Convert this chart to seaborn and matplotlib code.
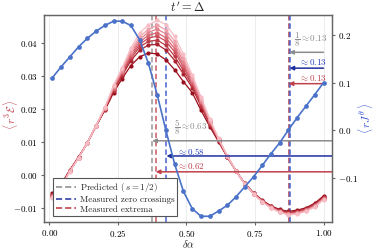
import numpy as np
import pandas as pd
import matplotlib
matplotlib.use("Agg")
import matplotlib.pyplot as plt
import seaborn as sns
from matplotlib.ticker import FuncFormatter, FixedLocator
from matplotlib.lines import Line2D

# ==================== data ====================
DELTA_ALPHA = [0.010, 0.042, 0.074, 0.106, 0.138, 0.170, 0.202, 0.234,
               0.265, 0.297, 0.329, 0.361, 0.393, 0.425, 0.457, 0.489,
               0.521, 0.553, 0.585, 0.617, 0.649, 0.681, 0.713, 0.745,
               0.777, 0.808, 0.840, 0.872, 0.904, 0.936, 0.968, 1.000]

# <r J^theta>, right axis
RJ_THETA = [0.110, 0.133, 0.154, 0.175, 0.193, 0.208, 0.220, 0.229,
            0.229, 0.220, 0.190, 0.141, 0.075, 0.000, -0.071, -0.128,
            -0.164, -0.180, -0.180, -0.169, -0.157, -0.139, -0.118, -0.097,
            -0.073, -0.049, -0.026, 0.001, 0.027, 0.051, 0.075, 0.100]

# <r^3 E>, left axis, darkest (0) -> lightest (7)
R3E_0 = [-0.0055, -0.0028, 0.0015, 0.0055, 0.0097, 0.0148, 0.0196, 0.0250, 0.0292, 0.0332, 0.0358,
         0.0370, 0.0367, 0.0349, 0.0319, 0.0283, 0.0250, 0.0196, 0.0147, 0.0101, 0.0054, 0.0012,
         -0.0025, -0.0054, -0.0076, -0.0093, -0.0104, -0.0110, -0.0106, -0.0099, -0.0085, -0.0063]
R3E_1 = [-0.0059, -0.0030, 0.0014, 0.0054, 0.0097, 0.0149, 0.0199, 0.0256, 0.0301, 0.0347, 0.0378,
         0.0394, 0.0396, 0.0379, 0.0347, 0.0306, 0.0265, 0.0208, 0.0153, 0.0104, 0.0055, 0.0012,
         -0.0026, -0.0055, -0.0078, -0.0095, -0.0107, -0.0113, -0.0109, -0.0102, -0.0088, -0.0066]
R3E_2 = [-0.0060, -0.0031, 0.0013, 0.0054, 0.0097, 0.0149, 0.0200, 0.0259, 0.0306, 0.0354, 0.0388,
         0.0405, 0.0409, 0.0393, 0.0360, 0.0317, 0.0272, 0.0213, 0.0156, 0.0106, 0.0056, 0.0012,
         -0.0026, -0.0056, -0.0078, -0.0096, -0.0108, -0.0115, -0.0111, -0.0103, -0.0090, -0.0068]
R3E_3 = [-0.0062, -0.0032, 0.0012, 0.0053, 0.0097, 0.0149, 0.0201, 0.0262, 0.0310, 0.0360, 0.0396,
         0.0415, 0.0421, 0.0406, 0.0373, 0.0327, 0.0278, 0.0218, 0.0159, 0.0107, 0.0056, 0.0012,
         -0.0026, -0.0056, -0.0079, -0.0097, -0.0109, -0.0116, -0.0112, -0.0105, -0.0091, -0.0069]
R3E_4 = [-0.0063, -0.0033, 0.0012, 0.0053, 0.0097, 0.0149, 0.0202, 0.0264, 0.0313, 0.0365, 0.0403,
         0.0424, 0.0431, 0.0416, 0.0383, 0.0335, 0.0283, 0.0222, 0.0162, 0.0108, 0.0057, 0.0012,
         -0.0026, -0.0057, -0.0080, -0.0097, -0.0110, -0.0117, -0.0114, -0.0106, -0.0093, -0.0071]
R3E_5 = [-0.0065, -0.0034, 0.0011, 0.0053, 0.0097, 0.0150, 0.0203, 0.0266, 0.0316, 0.0371, 0.0411,
         0.0433, 0.0442, 0.0428, 0.0394, 0.0344, 0.0289, 0.0226, 0.0164, 0.0109, 0.0057, 0.0012,
         -0.0026, -0.0057, -0.0080, -0.0098, -0.0111, -0.0118, -0.0115, -0.0107, -0.0094, -0.0072]
R3E_6 = [-0.0066, -0.0035, 0.0011, 0.0052, 0.0097, 0.0150, 0.0204, 0.0269, 0.0320, 0.0377, 0.0419,
         0.0442, 0.0454, 0.0440, 0.0405, 0.0354, 0.0295, 0.0231, 0.0167, 0.0110, 0.0057, 0.0012,
         -0.0027, -0.0057, -0.0081, -0.0099, -0.0112, -0.0119, -0.0116, -0.0108, -0.0095, -0.0073]
R3E_7 = [-0.0068, -0.0036, 0.0010, 0.0052, 0.0097, 0.0150, 0.0205, 0.0272, 0.0325, 0.0385, 0.0430,
         0.0455, 0.0469, 0.0456, 0.0420, 0.0366, 0.0303, 0.0237, 0.0170, 0.0112, 0.0058, 0.0012,
         -0.0027, -0.0058, -0.0082, -0.0100, -0.0113, -0.0121, -0.0118, -0.0110, -0.0097, -0.0075]
R3E_CURVES = [R3E_0, R3E_1, R3E_2, R3E_3, R3E_4, R3E_5, R3E_6, R3E_7]

# vertical markers
PRED_LOW, PRED_HIGH = 0.375, 0.875
ZERO_LOW, ZERO_HIGH = 0.427, 0.876
EXTR_LOW, EXTR_HIGH = 0.388, 0.873

LEGEND_LABELS = ["Predicted $(\\, s = 1/2)$", "Measured zero crossings", "Measured extrema"]

# ==================== style ====================
sns.set_style("ticks")
plt.rcParams["font.family"] = ["cmr10", "DejaVu Serif"]
plt.rcParams["mathtext.fontset"] = "cm"
plt.rcParams["axes.unicode_minus"] = False
plt.rcParams["axes.edgecolor"] = "#666666"
plt.rcParams["xtick.color"] = "#666666"
plt.rcParams["ytick.color"] = "#666666"
plt.rcParams["xtick.labelcolor"] = "black"
plt.rcParams["ytick.labelcolor"] = "black"

GRAY = "#8c8c8c"
BLUE = "#4a72c8"
BLUE_DARK = "#1f2f9e"
RED = "#c0404c"

fig = plt.figure(figsize=(3.74, 2.49), dpi=100)
ax = fig.add_axes([0.1176, 0.1084, 0.7701, 0.8314])
ax2 = ax.twinx()

# red family
rows = []
for i, c in enumerate(R3E_CURVES):
    for x, v in zip(DELTA_ALPHA, c):
        rows.append({"da": x, "val": v, "k": 7 - i})
red_df = pd.DataFrame(rows)
red_pal = sns.blend_palette(["#9a0f1c", "#d45864", "#f7bcc4"], 8)
sns.lineplot(data=red_df, x="da", y="val", hue="k", palette=red_pal,
             hue_order=list(range(7, -1, -1)), marker="o", markersize=3.0,
             markeredgewidth=0, linewidth=0.9, legend=False, ax=ax, zorder=2)

# blue curve
blue_df = pd.DataFrame({"da": DELTA_ALPHA, "val": RJ_THETA})
sns.lineplot(data=blue_df, x="da", y="val", color=BLUE, marker="o", markersize=3.4,
             markeredgewidth=0, linewidth=1.2, legend=False, ax=ax2, zorder=3)

# vertical dashed lines
dash = (0, (3.5, 2))
for xv, col in [(PRED_LOW, "#999999"), (EXTR_LOW, "#c85a66"), (ZERO_LOW, "#4a62d0"),
                (PRED_HIGH, "#999999"), (EXTR_HIGH, "#c85a66"), (ZERO_HIGH, "#4a62d0")]:
    ax.axvline(xv, color=col, linestyle=dash, linewidth=1.1, zorder=1)

# arrows
yax = ax.get_yaxis_transform()
arrow_kw = dict(arrowstyle="-|>", mutation_scale=6, shrinkA=0, shrinkB=0, lw=1.1)
for xv, yv, col in [(PRED_LOW, 0.0104, GRAY), (ZERO_LOW, 0.0058, BLUE_DARK), (EXTR_LOW, 0.0010, RED)]:
    ax.annotate("", xy=(xv, yv), xytext=(1.0, yv), xycoords="data", textcoords=yax,
                arrowprops=dict(color=col, **arrow_kw), zorder=4)
for xv, yv, col in [(PRED_HIGH, 0.0372, GRAY), (ZERO_HIGH, 0.0324, BLUE_DARK), (EXTR_HIGH, 0.0277, RED)]:
    ax.annotate("", xy=(xv, yv), xytext=(1.0, yv), xycoords="data", textcoords="data",
                arrowprops=dict(color=col, **arrow_kw), zorder=4)

# labels on arrows
fs = 6.5
ax.text(0.455, 0.0145, r"$\dfrac{5}{8} \approx 0.63$", color=GRAY, fontsize=fs, va="center", ha="left")
ax.text(0.466, 0.0073, r"$\approx 0.58$", color="#2a40c0", fontsize=fs, va="center", ha="left")
ax.text(0.466, 0.0027, r"$\approx 0.62$", color=RED, fontsize=fs, va="center", ha="left")
ax.text(0.893, 0.0412, r"$\dfrac{1}{8} \approx 0.13$", color=GRAY, fontsize=fs, va="center", ha="left")
ax.text(0.910, 0.0342, r"$\approx 0.13$", color="#2a40c0", fontsize=fs, va="center", ha="left")
ax.text(0.910, 0.0294, r"$\approx 0.13$", color=RED, fontsize=fs, va="center", ha="left")

# axes
ax.set_xlim(-0.02, 1.031)
ax.set_ylim(-0.0142, 0.0485)
ax2.set_ylim(-0.192, 0.242)
ax.xaxis.set_major_locator(FixedLocator([0.0, 0.25, 0.5, 0.75, 1.0]))
ax.yaxis.set_major_locator(FixedLocator([-0.01, 0.0, 0.01, 0.02, 0.03, 0.04]))
ax2.yaxis.set_major_locator(FixedLocator([-0.1, 0.0, 0.1, 0.2]))
ax.xaxis.set_major_formatter(FuncFormatter(lambda v, p: f"${v:.2f}$"))
ax.yaxis.set_major_formatter(FuncFormatter(lambda v, p: f"${v:.2f}$"))
ax2.yaxis.set_major_formatter(FuncFormatter(lambda v, p: f"${v:.1f}$"))
for a in (ax, ax2):
    a.tick_params(labelsize=6.5, length=2.5, width=0.8, pad=2)
    for s in a.spines.values():
        s.set_linewidth(0.9)
ax.tick_params(axis="x", pad=1.5)
ax.grid(axis="x", color="#ececec", linewidth=0.7)
ax.set_axisbelow(True)

ax.set_xlabel(r"$\delta\alpha$", fontsize=7.5)
ax.set_ylabel(r"$\langle\, r^3 \mathcal{E} \,\rangle$", fontsize=8, color=RED)
ax2.set_ylabel(r"$\langle\, r J^\theta \,\rangle$", fontsize=8, color="#3050d0")
ax.xaxis.set_label_coords(0.5, -0.077)
ax.yaxis.set_label_coords(-0.085, 0.52)
ax2.yaxis.set_label_coords(1.085, 0.5)
ax.set_title(r"$t' = \Delta$", fontsize=9, pad=2)

handles = [Line2D([], [], color="#888888", linestyle=(0, (4, 2)), lw=1.1),
           Line2D([], [], color="#1f2f9e", linestyle=(0, (4, 2)), lw=1.1),
           Line2D([], [], color="#c0303c", linestyle=(0, (4, 2)), lw=1.1)]
leg = ax2.legend(handles, LEGEND_LABELS, loc="lower left", bbox_to_anchor=(0.033, 0.028),
                 borderaxespad=0, fontsize=6.5, frameon=True, fancybox=False,
                 framealpha=1, edgecolor="#555555", handlelength=2.2,
                 handletextpad=0.4, labelspacing=0.15, borderpad=0.3)
leg.get_frame().set_linewidth(0.8)

fig.savefig("out.png", dpi=100)
